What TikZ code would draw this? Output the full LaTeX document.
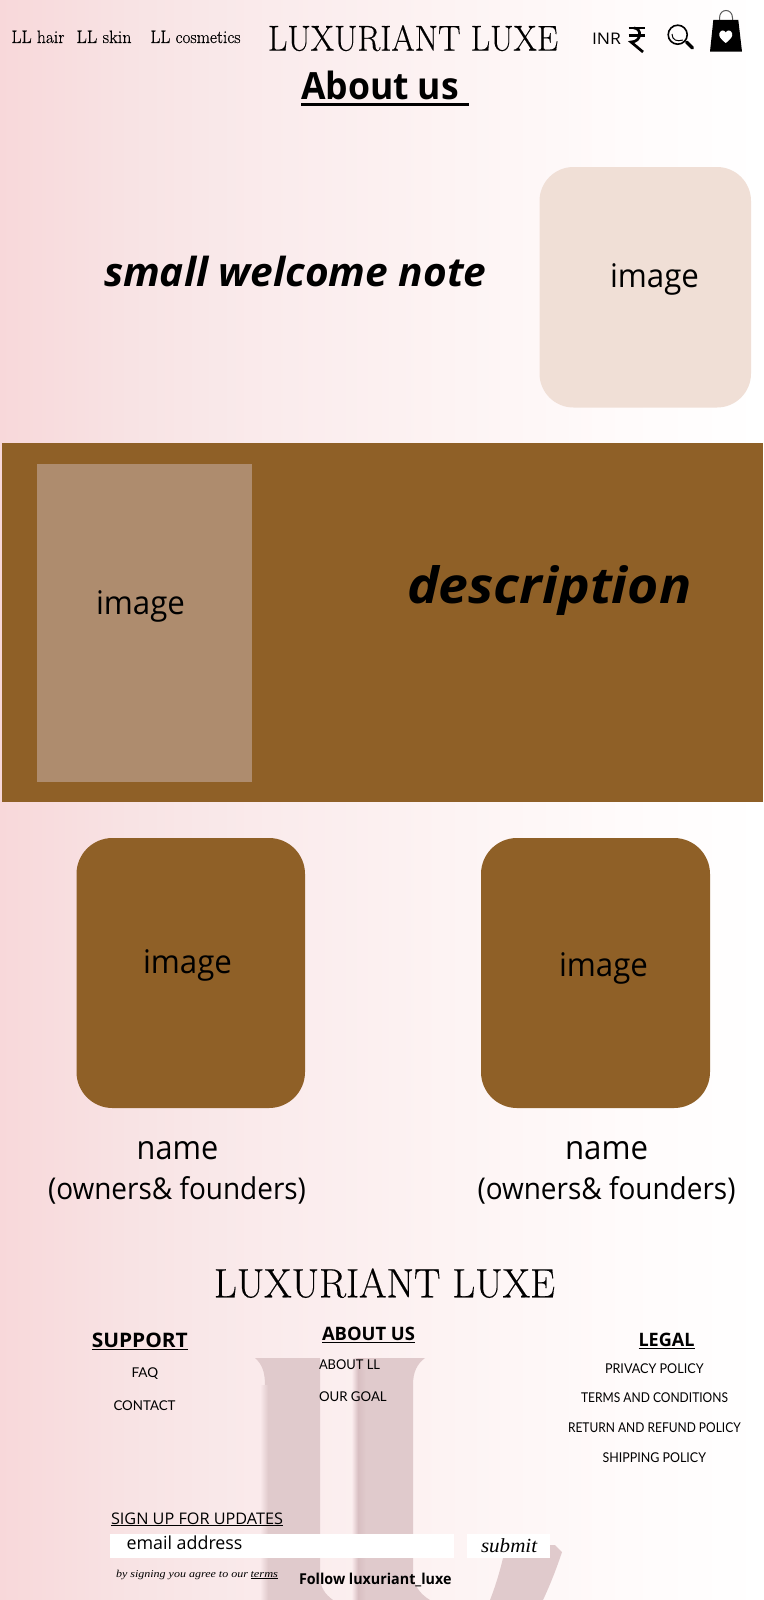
\documentclass[tikz,border=0pt]{standalone}
\usepackage{graphicx}
\usepackage{fontspec}
\setmainfont{Open Sans}
\newfontfamily\didone[FakeBold=0.35]{Latin Modern Roman}
\newfontfamily\lato{Lato}
\newfontfamily\italserif{Liberation Serif}
\newcommand\fitw[2]{\resizebox{#1pt}{\height}{#2}}
\definecolor{bandcol}{HTML}{8F6027}
\definecolor{paleimg}{HTML}{AE8C6E}
\definecolor{sand}{HTML}{F0DFD6}
\definecolor{wmark}{HTML}{E0CACC}
\definecolor{wmarkdark}{HTML}{D8BFC2}
\definecolor{wgap}{HTML}{FAEAEC}
\definecolor{gradA}{HTML}{F8D8DA}
\definecolor{gradB}{HTML}{F8E3E4}
\definecolor{gradC}{HTML}{FAEBEC}
\definecolor{gradD}{HTML}{FDF3F3}
\definecolor{gradE}{HTML}{FFFBFB}
\definecolor{gradF}{HTML}{FFFFFF}
\pgfdeclarehorizontalshading{pagegrad}{100bp}{color(0bp)=(gradA); color(25bp)=(gradA); color(33.5bp)=(gradB); color(42.7bp)=(gradC); color(54bp)=(gradD); color(66bp)=(gradE); color(75bp)=(gradF); color(100bp)=(gradF)}
\tikzset{
  txt/.style={anchor=base west,inner sep=0pt,outer sep=0pt,text=black},
  ulrule/.style={draw=black,line width=#1},
  whitebox/.style={fill=white,draw=none}
}
\begin{document}
\begin{tikzpicture}[x=1pt,y=-1pt]
\useasboundingbox (0,0) rectangle (763,1600);
\clip (0,0) rectangle (763,1600);
% page background
\shade[shading=pagegrad] (0,0) rectangle (763,1600);
% watermark
\fill[wmark] (255,1358) .. controls (262,1364) and (265,1372) .. (265,1385) -- (265,1600) -- (333,1600)
  .. controls (325,1594) and (320,1588) .. (320,1575) -- (320,1358) -- cycle;
\fill[wmark] (357,1358) -- (357,1600) -- (430,1600) .. controls (420,1594) and (413,1585) .. (413,1572)
  -- (413,1385) .. controls (413,1372) and (417,1364) .. (425,1358) -- cycle;
\fill[wmark] (504,1545) -- (503,1558) .. controls (499,1575) and (494,1590) .. (490,1600) -- (543,1600)
  .. controls (550,1585) and (556,1570) .. (562,1552) -- (555,1545) -- cycle;
\shade[left color=wgap,right color=wmark] (260,1385) rectangle (268,1600);
\shade[left color=wgap,right color=wmarkdark] (352,1358) rectangle (358,1600);
\shade[left color=wmarkdark,right color=wmark] (358,1358) rectangle (366,1600);
% header
\node[txt] (nhair) at (11.5,43) {\didone\fontsize{18}{18}\selectfont\fitw{53}{LL hair}};
\node[txt] (nskin) at (76.5,43) {\didone\fontsize{18}{18}\selectfont\fitw{55}{LL skin}};
\node[txt] (ncosm) at (150.5,43) {\didone\fontsize{18}{18}\selectfont\fitw{90}{LL cosmetics}};
\node[txt] (brand) at (268,50.6) {\didone\fontsize{36}{36}\selectfont\fitw{290}{LUXURIANT LUXE}};
\node[txt] (inr) at (592,45) {\fontsize{16}{16}\selectfont\fitw{29}{INR}};
% rupee icon
\draw[line width=2.7pt] (628.5,28) -- (645,28) (628.5,35.5) -- (645,35.5);
\draw[line width=2.7pt] (634,28) .. controls (642,28) and (642,42) .. (631,42) -- (643,52);
% search icon
\draw[line width=1.6pt] (677.7,34.7) circle (9.5);
\draw[line width=3.4pt,line cap=round] (686.5,42) -- (692.5,48);
\draw[line width=1pt] (672,34) .. controls (672,40) and (677,42) .. (683,40);
% bag icon
\draw[line width=1pt,draw=black!65] (719.5,24) -- (719.5,18) .. controls (719.5,8) and (732.5,8) .. (732.5,18) -- (732.5,24);
\fill[black] (713.3,20) -- (738.3,20) -- (742,51.7) -- (710,51.7) -- cycle;
\fill[white] (725.7,43) .. controls (720,38.5) and (718.5,36) .. (719.5,33) .. controls (721,29.5) and (724.5,30) .. (725.7,32.5)
  .. controls (727,30) and (730.5,29.5) .. (732,33) .. controls (733,36) and (731.5,38.5) .. (725.7,43) -- cycle;
% title
\node[txt] (title) at (301,100) {\bfseries\fontsize{37.5}{37.5}\selectfont\fitw{158}{About us}};
\coordinate (tulA) at (301,104.5);
\coordinate (tulB) at (468.5,104.5);
\draw[ulrule=3.1pt] (tulA) -- (tulB);
% welcome block
\node[txt] (welcome) at (104,286) {\bfseries\itshape\fontsize{40}{40}\selectfont\fitw{382.5}{small welcome note}};
\fill[sand,rounded corners=34pt] (539.5,167) rectangle (751,407.5);
\node[txt] (img1) at (610,287) {\fontsize{32.5}{32.5}\selectfont\fitw{89}{image}};
% band
\fill[bandcol] (2,443) rectangle (763,802);
\fill[paleimg] (37,464) rectangle (252,782);
\node[txt] (img2) at (96,614) {\fontsize{32.5}{32.5}\selectfont\fitw{89}{image}};
\node[txt] (desc) at (407,603) {\bfseries\itshape\fontsize{50}{50}\selectfont\fitw{284.5}{description}};
% owners
\fill[bandcol,rounded corners=36pt] (76.5,838) rectangle (305,1108);
\fill[bandcol,rounded corners=36pt] (481,838) rectangle (710,1108);
\node[txt] (img3) at (143,973) {\fontsize{32.5}{32.5}\selectfont\fitw{89}{image}};
\node[txt] (img4) at (559,976) {\fontsize{32.5}{32.5}\selectfont\fitw{89}{image}};
\node[txt] (name1) at (136.7,1159.5) {\fontsize{33}{33}\selectfont\fitw{81.5}{name}};
\node[txt] (name2) at (565,1159.5) {\fontsize{33}{33}\selectfont\fitw{83}{name}};
\node[txt] (own1) at (48,1199) {\fontsize{30}{30}\selectfont\fitw{258}{(owners\& founders)}};
\node[txt] (own2) at (477.5,1199) {\fontsize{30}{30}\selectfont\fitw{258}{(owners\& founders)}};
% footer
\node[txt] (fbrand) at (214,1297.3) {\didone\fontsize{41}{41}\selectfont\fitw{341}{LUXURIANT LUXE}};
\node[txt] (sup) at (91.8,1347) {\bfseries\fontsize{20}{20}\selectfont\fitw{96}{SUPPORT}};
\draw[ulrule=1.3pt] ([yshift=-2.4pt]sup.base west) -- ([yshift=-2.4pt]sup.base east);
\node[txt] (abt) at (322,1340) {\bfseries\fontsize{18.5}{18.5}\selectfont\fitw{93}{ABOUT US}};
\draw[ulrule=1.3pt] ([yshift=-2.4pt]abt.base west) -- ([yshift=-2.4pt]abt.base east);
\node[txt] (leg) at (638.5,1346) {\bfseries\fontsize{18.5}{18.5}\selectfont\fitw{56}{LEGAL}};
\draw[ulrule=1.3pt] ([yshift=-2.4pt]leg.base west) -- ([yshift=-2.4pt]leg.base east);
\node[txt] (faq) at (131.5,1377) {\lato\fontsize{13.5}{13.5}\selectfont\fitw{26.7}{FAQ}};
\node[txt] (con) at (113.5,1410) {\lato\fontsize{13.5}{13.5}\selectfont\fitw{62}{CONTACT}};
\node[txt] (abll) at (319,1369) {\lato\fontsize{13.5}{13.5}\selectfont\fitw{61}{ABOUT LL}};
\node[txt] (goal) at (319,1401.7) {\lato\fontsize{13.5}{13.5}\selectfont\fitw{67.7}{OUR GOAL}};
\node[txt] (priv) at (605,1373) {\lato\fontsize{13.5}{13.5}\selectfont\fitw{98.6}{PRIVACY POLICY}};
\node[txt] (term) at (581,1402.7) {\lato\fontsize{13.5}{13.5}\selectfont\fitw{147}{TERMS AND CONDITIONS}};
\node[txt] (retn) at (568,1432) {\lato\fontsize{13.5}{13.5}\selectfont\fitw{172.7}{RETURN AND REFUND POLICY}};
\node[txt] (ship) at (602.5,1462) {\lato\fontsize{13.5}{13.5}\selectfont\fitw{103.5}{SHIPPING POLICY}};
\node[txt] (sign) at (111,1524) {\fontsize{16}{16}\selectfont\fitw{172}{SIGN UP FOR UPDATES}};
\draw[ulrule=0.9pt] ([yshift=-1.6pt]sign.base west) -- ([yshift=-1.6pt]sign.base east);
\fill[whitebox] (110,1534) rectangle (454,1557.7);
\fill[whitebox] (467,1534.3) rectangle (550,1558);
\node[txt] (mail) at (126.5,1549.3) {\fontsize{18}{18}\selectfont\fitw{116}{email address}};
\node[txt] (subm) at (481,1552.3) {\italserif\itshape\fontsize{20}{20}\selectfont\fitw{56.2}{submit}};
\node[txt] (agree) at (116,1577.3) {\italserif\itshape\fontsize{10.5}{10.5}\selectfont\fitw{132}{by signing you agree to our}};
\node[txt] (trm) at (250.5,1577.3) {\italserif\itshape\fontsize{10.5}{10.5}\selectfont\fitw{27.5}{terms}};
\draw[ulrule=0.6pt] ([yshift=-1.4pt]trm.base west) -- ([yshift=-1.4pt]trm.base east);
\node[txt] (fol) at (299,1584) {\bfseries\fontsize{15}{15}\selectfont\fitw{152.6}{Follow luxuriant\_luxe}};
\end{tikzpicture}
\end{document}
